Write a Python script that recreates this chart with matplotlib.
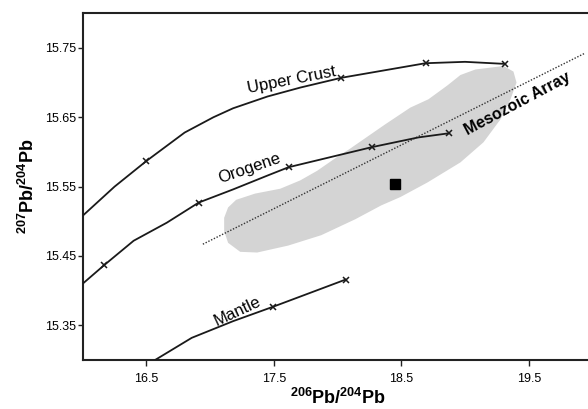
import matplotlib
matplotlib.use("Agg")
import matplotlib.pyplot as plt

plt.rcParams['font.family'] = ['Liberation Sans', 'DejaVu Sans']
plt.rcParams['mathtext.fontset'] = 'custom'
plt.rcParams['mathtext.rm'] = 'Liberation Sans'
plt.rcParams['mathtext.bf'] = 'Liberation Sans:bold'

# Upper Crust growth curve
crust_x = [16.00, 16.25, 16.50, 16.80, 17.025, 17.18, 17.45, 17.71, 18.03, 18.69, 19.00, 19.315]
crust_y = [15.508, 15.550, 15.587, 15.628, 15.650, 15.663, 15.680, 15.693, 15.707, 15.728, 15.730, 15.727]
crust_mx = [16.50, 18.03, 18.69, 19.315]
crust_my = [15.587, 15.707, 15.728, 15.727]

# Orogene growth curve
orog_x = [16.00, 16.17, 16.40, 16.66, 16.91, 17.18, 17.45, 17.615, 18.27, 18.634, 18.875]
orog_y = [15.410, 15.437, 15.472, 15.498, 15.527, 15.546, 15.566, 15.578, 15.607, 15.621, 15.627]
orog_mx = [16.17, 16.91, 17.615, 18.27, 18.875]
orog_my = [15.437, 15.527, 15.578, 15.607, 15.627]

# Mantle growth curve
mant_x = [16.568, 16.856, 17.18, 17.497, 18.063]
mant_y = [15.300, 15.332, 15.356, 15.377, 15.416]
mant_mx = [17.497, 18.063]
mant_my = [15.377, 15.416]

# Mesozoic array reference line
meso_x = [16.943, 19.936]
meso_y = [15.467, 15.742]

# Gray field (outline)
field_x = [17.110, 17.141, 17.204, 17.353, 17.550, 17.707, 17.841, 17.982, 18.100,
           18.194, 18.375, 18.571, 18.713, 18.862, 18.964, 19.082, 19.302, 19.380,
           19.404, 19.357, 19.278, 19.145, 18.964, 18.705, 18.493, 18.343, 18.139,
           17.872, 17.612, 17.369, 17.236, 17.141, 17.110]
field_y = [15.505, 15.520, 15.531, 15.540, 15.547, 15.559, 15.573, 15.591, 15.605,
           15.617, 15.640, 15.664, 15.676, 15.696, 15.711, 15.719, 15.724, 15.716,
           15.700, 15.676, 15.647, 15.614, 15.585, 15.556, 15.535, 15.523, 15.503,
           15.480, 15.465, 15.455, 15.456, 15.469, 15.486]

# Sample
sample_x = [18.45]
sample_y = [15.554]

xticks = [16.5, 17.5, 18.5, 19.5]
yticks = [15.35, 15.45, 15.55, 15.65, 15.75]

fig = plt.figure(figsize=(5.88, 4.09), dpi=100)
ax = fig.add_axes([0.1406, 0.1198, 0.867, 0.8477])
ax.set_xlim(16.0, 20.0)
ax.set_ylim(15.30, 15.80)

ax.fill(field_x, field_y, color='#d4d4d4', lw=0, zorder=1)
ax.plot(meso_x, meso_y, ls=(0, (1, 1.2)), color='#333333', lw=1.0, zorder=2)

lc = '#1a1a1a'
for xs, ys, mx, my in [(crust_x, crust_y, crust_mx, crust_my),
                       (orog_x, orog_y, orog_mx, orog_my),
                       (mant_x, mant_y, mant_mx, mant_my)]:
    ax.plot(xs, ys, color=lc, lw=1.3, zorder=3, solid_joinstyle='round')
    ax.plot(mx, my, ls='none', marker='x', ms=5, mew=1.1, color=lc, zorder=4)

ax.plot(sample_x, sample_y, ls='none', marker='s', ms=7.5, color='black', zorder=5)

ax.text(17.64, 15.703, 'Upper Crust', rotation=11, ha='center', va='center', fontsize=12)
ax.text(17.31, 15.576, 'Orogene', rotation=19, ha='center', va='center', fontsize=12)
ax.text(17.215, 15.370, 'Mantle', rotation=25, ha='center', va='center', fontsize=12)
ax.text(19.41, 15.669, 'Mesozoic Array', rotation=28, ha='center', va='center',
        fontsize=11.5, fontweight='bold')

ax.set_xticks(xticks)
ax.set_xticklabels([f'{v:.1f}' for v in xticks])
ax.set_yticks(yticks)
ax.set_yticklabels([f'{v:.2f}' for v in yticks])
ax.tick_params(direction='out', labelsize=9, color='#222222', width=1)
ax.tick_params(axis='x', length=4.5, pad=5)
ax.tick_params(axis='y', length=3.5, pad=1)

for s in ax.spines.values():
    s.set_linewidth(1.5)
    s.set_color('#222222')

ax.set_xlabel(r'$\mathbf{^{206}Pb/^{204}Pb}$', fontsize=13, labelpad=2)
ax.set_ylabel(r'$\mathbf{^{207}Pb/^{204}Pb}$', fontsize=13, labelpad=5)

fig.savefig('out.png', dpi=100)
